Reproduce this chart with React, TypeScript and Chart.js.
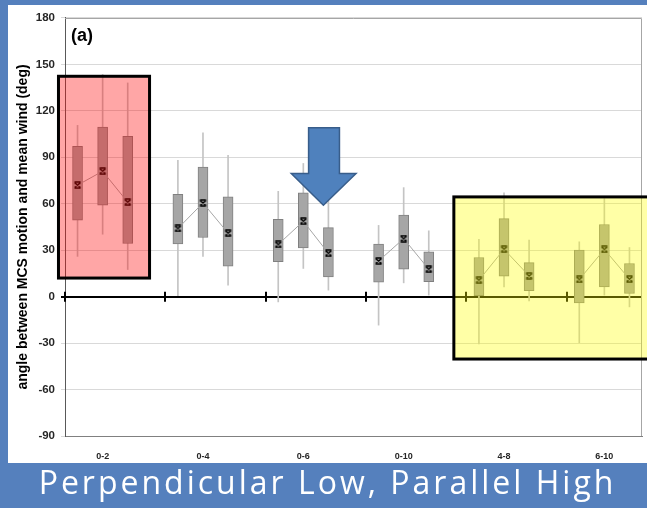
import React, { useEffect, useRef } from 'react';
import { Chart, registerables } from 'chart.js';
Chart.register(...registerables);

// ---- data ----
const categories = ['0-2', '0-4', '0-6', '0-10', '4-8', '6-10'];
const whiskerLow = [26, 40.3, 17.5, 0, 26, 7.4, -3.4, 18.2, 4.2, -18.4, 8.9, 1, -30.6, 6.3, -2.7, -29.8, 1, -6.6];
const boxLow = [49.4, 59, 34.3, 34, 38.2, 19.7, 22.5, 31.5, 12.8, 9.4, 17.7, 9.6, 0, 13.2, 3.8, -4, 6.3, 2];
const meanVals = [72, 81, 61, 44, 60.5, 41, 33.7, 48.7, 28, 23, 37.5, 17.7, 10.6, 30.6, 13.4, 11.1, 30.5, 11.3];
const boxHigh = [97, 109.5, 103.5, 66, 83.7, 64.4, 50, 67, 44.6, 34, 52.6, 29, 25.3, 50.4, 22, 30, 46.6, 21.4];
const whiskerHigh = [110.6, 143.5, 138, 88, 105.7, 91.3, 68, 86, 62, 46, 70.4, 42.5, 37, 67, 36.5, 35.4, 63.3, 31.7];
const yTicks = [-90, -60, -30, 0, 30, 60, 90, 120, 150, 180];
const boxesPerGroup = 3;

// annotation shapes (data units)
const redBox = { x0: 0.24, x1: 3.87, y0: 12, y1: 142.3 };
const yellowBox = { x0: 16.0, x1: 24.5, y0: -40.3, y1: 64.4 };
const arrowPts = [
  [10.21, 109], [11.44, 109], [11.44, 79.5], [12.1, 79.5], [10.8, 59], [9.52, 79.5], [10.21, 79.5],
];

const slotOf = (i: number) => Math.floor(i / boxesPerGroup) * (boxesPerGroup + 1) + (i % boxesPerGroup) + 1;

export default function App() {
  const ref = useRef<HTMLCanvasElement>(null);
  useEffect(() => {
    const mk = document.createElement('canvas');
    mk.width = 9; mk.height = 8;
    const m = mk.getContext('2d')!;
    m.strokeStyle = '#000';
    m.lineWidth = 1.5;
    m.beginPath();
    m.moveTo(1.5, 1.5); m.lineTo(7.5, 6.5);
    m.moveTo(7.5, 1.5); m.lineTo(1.5, 6.5);
    m.moveTo(1.5, 1); m.lineTo(7.5, 1);
    m.moveTo(1.5, 7); m.lineTo(7.5, 7);
    m.stroke();

    const whiskers = whiskerLow.map((v, i) => ({ x: slotOf(i), y: [v, whiskerHigh[i]] }));
    const boxes = boxLow.map((v, i) => ({ x: slotOf(i), y: [v, boxHigh[i]] }));
    const meanSets = categories.map((c, g) => ({
      type: 'line' as const,
      label: 'mean ' + c,
      data: [0, 1, 2].map(j => ({ x: slotOf(g * 3 + j), y: meanVals[g * 3 + j] })),
      borderColor: '#a6a6a6',
      borderWidth: 1,
      pointStyle: mk,
      pointRadius: 4,
      order: 1,
    }));

    const overlay = {
      id: 'overlay',
      afterDraw(chart: any) {
        const { ctx, chartArea: a, scales } = chart;
        const xs = scales.x, ys = scales.y;
        const px = (v: number) => xs.getPixelForValue(v);
        const py = (v: number) => ys.getPixelForValue(v);
        ctx.save();
        // plot frame top/right
        ctx.strokeStyle = '#a6a6a6';
        ctx.lineWidth = 1;
        ctx.beginPath();
        ctx.moveTo(a.left, Math.round(a.top) + 0.5);
        ctx.lineTo(Math.round(a.right) - 0.5, Math.round(a.top) + 0.5);
        ctx.lineTo(Math.round(a.right) - 0.5, a.bottom);
        ctx.stroke();
        // zero-line group ticks
        ctx.strokeStyle = '#000';
        ctx.lineWidth = 2;
        const y0 = py(0);
        for (let g = 0; g < categories.length; g++) {
          const x = Math.round(px(g * (boxesPerGroup + 1) + 0.5));
          ctx.beginPath();
          ctx.moveTo(x, y0 - 5);
          ctx.lineTo(x, y0 + 5);
          ctx.stroke();
        }
        // highlight rectangles
        const rect = (b: any, fill: string) => {
          const x0 = px(b.x0), x1 = px(b.x1), yy0 = py(b.y1), yy1 = py(b.y0);
          ctx.fillStyle = fill;
          ctx.fillRect(x0, yy0, x1 - x0, yy1 - yy0);
          ctx.strokeStyle = '#000';
          ctx.lineWidth = 3;
          ctx.strokeRect(x0, yy0, x1 - x0, yy1 - yy0);
        };
        rect(redBox, 'rgba(255,0,0,0.35)');
        rect(yellowBox, 'rgba(255,255,0,0.35)');
        // arrow
        ctx.beginPath();
        arrowPts.forEach(([x, y], i) => (i ? ctx.lineTo(px(x), py(y)) : ctx.moveTo(px(x), py(y))));
        ctx.closePath();
        ctx.fillStyle = '#4f81bd';
        ctx.fill();
        ctx.strokeStyle = '#385d8a';
        ctx.lineWidth = 1.5;
        ctx.stroke();
        ctx.restore();
      },
    };

    const chart = new Chart(ref.current!, {
      type: 'bar',
      data: {
        datasets: [
          ...meanSets,
          {
            type: 'bar',
            label: 'box',
            data: boxes as any,
            backgroundColor: '#a6a6a6',
            borderColor: '#808080',
            borderWidth: 1,
            borderSkipped: false,
            barThickness: 10,
            grouped: false,
            order: 2,
          },
          {
            type: 'bar',
            label: 'whisker',
            data: whiskers as any,
            backgroundColor: '#c4c4c4',
            borderWidth: 0,
            barThickness: 1,
            grouped: false,
            order: 3,
          },
        ] as any,
      },
      options: {
        responsive: false,
        animation: false,
        events: [],
        layout: { padding: { top: 12.5, right: 4, left: 0, bottom: 0 } },
        plugins: { legend: { display: false }, tooltip: { enabled: false } },
        scales: {
          x: {
            type: 'linear',
            min: 0.5,
            max: 23.5,
            offset: false,
            grid: { display: false, offset: false },
            border: { display: true, color: '#808080', width: 1 },
            afterBuildTicks: (s: any) => {
              s.ticks = categories.map((_, g) => ({ value: g * (boxesPerGroup + 1) + 2 }));
            },
            afterFit: (s: any) => { s.height = 27; },
            ticks: {
              autoSkip: false,
              maxRotation: 0,
              padding: 7,
              color: '#262626',
              font: { family: 'Liberation Sans, Arial, sans-serif', size: 9, weight: 'bold' },
              callback: (v: any) => categories[Math.round((Number(v) - 2) / (boxesPerGroup + 1))] ?? '',
            },
          },
          y: {
            min: -90,
            max: 180,
            afterBuildTicks: (s: any) => { s.ticks = yTicks.map(v => ({ value: v })); },
            afterFit: (s: any) => { s.width = 57; },
            grid: {
              color: (c: any) => (c.tick && c.tick.value === 0 ? '#000' : '#d9d9d9'),
              lineWidth: (c: any) => (c.tick && c.tick.value === 0 ? 2 : 1),
              tickLength: 4,
            },
            border: { display: true, color: '#595959', width: 1 },
            ticks: {
              padding: 6,
              color: '#262626',
              font: { family: 'Liberation Sans, Arial, sans-serif', size: 11.5, weight: 'bold' },
            },
            title: {
              display: true,
              text: 'angle between MCS motion and mean wind (deg)',
              color: '#000',
              padding: { top: 7, bottom: 0 },
              font: { family: 'Liberation Sans, Arial, sans-serif', size: 14, weight: 'bold' },
            },
          },
        },
      },
      plugins: [overlay],
    } as any);
    return () => chart.destroy();
  }, []);

  return (
    <div style={{ position: 'absolute', left: 0, top: 0, width: 647, height: 508, background: '#5580bd', overflow: 'hidden' }}>
      <div style={{ position: 'absolute', left: 8, top: 5, width: 639, height: 458, background: '#fff' }}>
        <canvas ref={ref} width={639} height={458} style={{ display: 'block' }} />
        <div style={{ position: 'absolute', left: 63, top: 20, font: 'bold 18px "Liberation Sans", Arial, sans-serif', color: '#000' }}>(a)</div>
      </div>
      <div style={{ position: 'absolute', left: 4, top: 460, width: 647, height: 45, lineHeight: '45px', textAlign: 'center', color: '#fff', font: '32px "Open Sans", sans-serif', letterSpacing: '3px', whiteSpace: 'nowrap' }}>
        Perpendicular Low, Parallel High
      </div>
    </div>
  );
}
